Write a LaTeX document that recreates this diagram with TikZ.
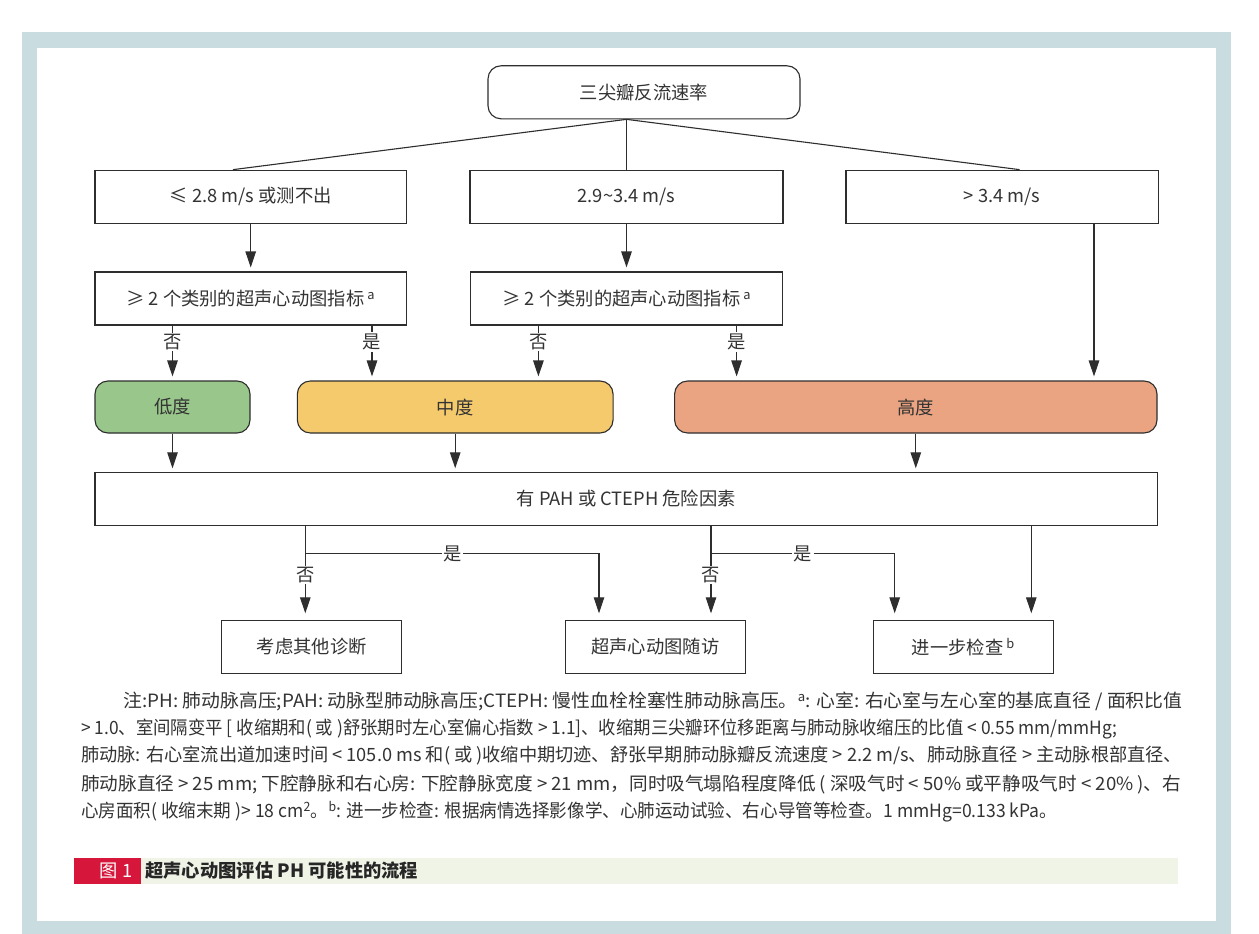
\documentclass[tikz,border=0pt]{standalone}
\usepackage{fontspec}
\usepackage{graphicx}
\setmainfont{Noto Sans CJK SC}
\usetikzlibrary{arrows.meta,calc}
\definecolor{framec}{HTML}{C9DDE1}
\definecolor{linec}{HTML}{2E2E2E}
\definecolor{txt}{HTML}{333333}
\definecolor{lowc}{HTML}{98C68B}
\definecolor{midc}{HTML}{F4CA6C}
\definecolor{highc}{HTML}{EAA482}
\definecolor{capred}{HTML}{D6173B}
\definecolor{capbar}{HTML}{EFF4E7}
\newcommand\fitline[2]{\sbox0{#2}\pgfmathsetmacro\fitratio{#1/\the\wd0}\scalebox{\fitratio}[1]{\usebox0}}
\newcommand\boxfont{\fontsize{18.3}{22}\selectfont}
\newcommand\notefont{\fontsize{18.3}{27}\selectfont}
\begin{document}
\begin{tikzpicture}[x=1pt,y=-1pt,
  every node/.style={text=txt, font=\boxfont},
  box/.style={draw=linec, line width=1.1pt, fill=white, minimum height=53pt, inner sep=0pt},
  rbox/.style={box, rounded corners=13pt},
  conn/.style={draw=linec, line width=1.1pt},
  arr/.style={conn, -{Triangle[length=16pt,width=10.5pt]}, shorten >=4pt},
  arrb/.style={arr, shorten >=7pt},
  lab/.style={fill=white, inner sep=1.5pt},
  noteline/.style={anchor=west, inner sep=0pt, font=\notefont, text=txt}]
\useasboundingbox (0,0) rectangle (1259,934);
\fill[white] (0,0) rectangle (1259,934);
\fill[framec] (21.7,32.3) rectangle (1231.3,934);
\fill[white] (36.7,48.3) rectangle (1215.7,921);

% nodes
\node[rbox, minimum width=312pt] (top) at (644,92.3) {三尖瓣反流速率};
\node[box, minimum width=311.4pt] (r2a) at (250.7,196.7) {≤ 2.8 m/s 或测不出};
\node[box, minimum width=313pt] (r2b) at (626.5,196.7) {2.9\textasciitilde 3.4 m/s};
\node[box, minimum width=312.5pt] (r2c) at (1002.2,196.7) {> 3.4 m/s};
\node[box, minimum width=311.7pt] (r3a) at (250.8,298.5) {≥ 2 个类别的超声心动图指标\,\textsuperscript{a}};
\node[box, minimum width=312pt] (r3b) at (626.8,298.5) {≥ 2 个类别的超声心动图指标\,\textsuperscript{a}};
\node[rbox, fill=lowc, minimum width=155pt, minimum height=52pt] (low) at (172.5,407) {低度};
\node[rbox, fill=midc, minimum width=315.7pt, minimum height=52pt] (mid) at (455.2,407) {中度};
\node[rbox, fill=highc, minimum width=482.4pt, minimum height=52pt] (high) at (915.8,407) {高度};
\node[box, minimum width=1062.6pt, minimum height=52.3pt] (pah) at (626.3,499) {有 PAH 或 CTEPH 危险因素};
\node[box, minimum width=180pt, minimum height=52.3pt] (b1) at (311.7,647) {考虑其他诊断};
\node[box, minimum width=180.2pt, minimum height=52.3pt] (b2) at (655.3,647) {超声心动图随访};
\node[box, minimum width=180.3pt, minimum height=52.3pt] (b3) at (963.4,647) {进一步检查\,\textsuperscript{b}};

% top split
\coordinate (ts) at ([xshift=-17.5pt]top.south);
\draw[conn] (ts) -- ([xshift=-17.7pt]r2a.north);
\draw[conn] (ts) -- (r2b.north);
\draw[conn] (ts) -- ([xshift=17.4pt]r2c.north);

% row 2 -> row 3
\draw[arr] (r2a.south) -- (r2a.south |- r3a.north);
\draw[arr] (r2b.south) -- (r2b.south |- r3b.north);
\coordinate (hc) at ([xshift=178.2pt]high.north);
\draw[arr] (hc |- r2c.south) -- (hc);

% row 3 -> levels
\draw[arr] (low.north |- r3a.south) -- node[lab,pos=0.3]{否} (low.north);
\coordinate (m1) at ([xshift=-83.2pt]mid.north);
\coordinate (m2) at ([xshift=83.2pt]mid.north);
\coordinate (h1) at ([xshift=-179.2pt]high.north);
\draw[arr] (m1 |- r3a.south) -- node[lab,pos=0.3]{是} (m1);
\draw[arr] (m2 |- r3b.south) -- node[lab,pos=0.3]{否} (m2);
\draw[arr] (h1 |- r3b.south) -- node[lab,pos=0.3]{是} (h1);

% levels -> pah
\draw[arr] (low.south) -- (low.south |- pah.north);
\draw[arr] (mid.south) -- (mid.south |- pah.north);
\draw[arr] (high.south) -- (high.south |- pah.north);

% pah -> outcomes
\coordinate (pl) at ([xshift=-321pt]pah.south);
\coordinate (pm) at ([xshift=84.7pt]pah.south);
\coordinate (pr) at ([xshift=405pt]pah.south);
\coordinate (jl) at ($(pl)+(0,28)$);
\coordinate (jm) at ($(pm)+(0,28)$);
\draw[arrb] (pl) -- node[lab,pos=0.52]{否} (pl |- b1.north);
\draw[arrb] (jl) -| node[lab,pos=0.25]{是} ([xshift=-56.3pt]b2.north);
\draw[arrb] (pm) -- node[lab,pos=0.52]{否} (pm |- b2.north);
\draw[arrb] (jm) -| node[lab,pos=0.25]{是} ([xshift=-68.7pt]b3.north);
\draw[arrb] (pr) -- (pr |- b3.north);

% notes
\node[noteline] (n1) at (123.3,701.7) {\fitline{1059}{注:PH: 肺动脉高压;PAH: 动脉型肺动脉高压;CTEPH: 慢性血栓栓塞性肺动脉高压。\textsuperscript{a}: 心室: 右心室与左心室的基底直径 / 面积比值}};
\node[noteline] (n2) at (81,729) {\fitline{1036}{> 1.0、室间隔变平 [ 收缩期和( 或 )舒张期时左心室偏心指数 > 1.1]、收缩期三尖瓣环位移距离与肺动脉收缩压的比值 < 0.55 mm/mmHg;}};
\node[noteline] (n3) at (81,755.7) {\fitline{1101}{肺动脉: 右心室流出道加速时间 < 105.0 ms 和( 或 )收缩中期切迹、舒张早期肺动脉瓣反流速度 > 2.2 m/s、肺动脉直径 > 主动脉根部直径、}};
\node[noteline] (n4) at (81,784.3) {\fitline{1100}{肺动脉直径 > 25 mm; 下腔静脉和右心房: 下腔静脉宽度 > 21 mm，同时吸气塌陷程度降低 ( 深吸气时 < 50\% 或平静吸气时 < 20\% )、右}};
\node[noteline] (n5) at (81,811.7) {\fitline{976}{心房面积( 收缩末期 )> 18 cm\textsuperscript{2}。\textsuperscript{b}: 进一步检查: 根据病情选择影像学、心肺运动试验、右心导管等检查。1 mmHg=0.133 kPa。}};

% caption
\fill[capred] (74,858) rectangle (141,884);
\fill[capbar] (141,858) rectangle (1177.5,884);
\node[text=white, inner sep=0pt] (fig) at (116,871) {图 1};
\node[anchor=west, inner sep=0pt, text=black!85, font=\boxfont\bfseries] (cap) at (145,871) {超声心动图评估 PH 可能性的流程};
\end{tikzpicture}
\end{document}
